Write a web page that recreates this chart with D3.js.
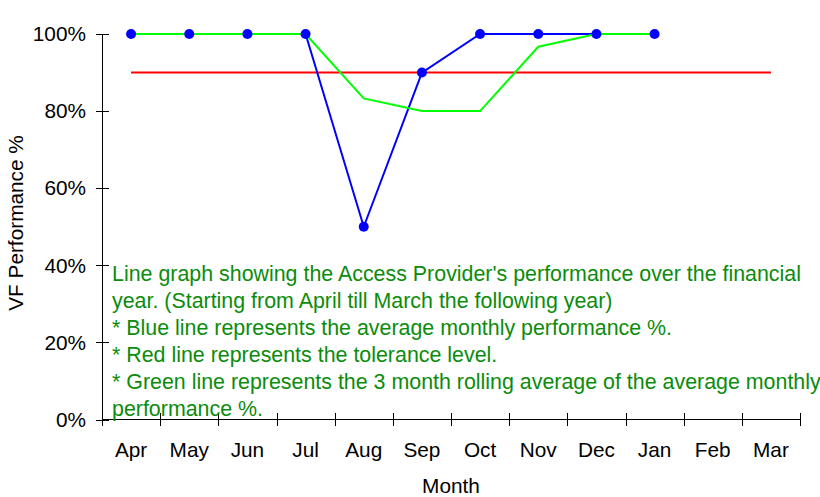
<!DOCTYPE html>
<html><head><meta charset="utf-8">
<script src="https://cdn.jsdelivr.net/npm/d3@7"></script>
<style>body{margin:0;background:#fff}svg{display:block;font-family:"Liberation Sans",Arial,sans-serif}</style>
</head><body><svg id="c" width="820" height="497"></svg>
<script>
const months = ["Apr","May","Jun","Jul","Aug","Sep","Oct","Nov","Dec","Jan","Feb","Mar"];
const monthlyPerf = [100,100,100,100,50,90,100,100,100,100];
const rollingAvg = [100,100,100,100,83.3,80,80,96.7,100,100];
const tolerance = [90,90,90,90,90,90,90,90,90,90,90,90];
const yTicks = [0,20,40,60,80,100];
const noteLines = [
  "Line graph showing the Access Provider's performance over the financial",
  "year. (Starting from April till March the following year)",
  "* Blue line represents the average monthly performance %.",
  "* Red line represents the tolerance level.",
  "* Green line represents the 3 month rolling average of the average monthly",
  "performance %."
];

const svg = d3.select("#c");
const x = d3.scaleBand().domain(months).range([102,800]);
const y = d3.scaleLinear().domain([0,100]).range([419.5,34]);
const cx = m => x(m) + x.bandwidth()/2;
const FS = 20.8;

// y axis
const ga = svg.append("g").attr("stroke","#000").attr("stroke-width",1);
ga.append("line").attr("x1",102.5).attr("x2",102.5).attr("y1",y(100)).attr("y2",y(0));
ga.selectAll(".yt").data(yTicks).join("line").attr("x1",96).attr("x2",109)
  .attr("y1",d=>Math.round(y(d))+0.5).attr("y2",d=>Math.round(y(d))+0.5);
svg.selectAll(".yl").data(yTicks).join("text").attr("x",86).attr("y",d=>y(d))
  .attr("dy","0.35em").attr("text-anchor","end").attr("font-size",FS).attr("fill","#000")
  .text(d=>d+"%");
// x axis
ga.append("line").attr("x1",102).attr("x2",800).attr("y1",419.5).attr("y2",419.5);
const xb = months.map(m=>x(m)).concat([800]);
ga.selectAll(".xt").data(xb).join("line").attr("x1",d=>Math.round(d)+0.5).attr("x2",d=>Math.round(d)+0.5)
  .attr("y1",413).attr("y2",426);
svg.selectAll(".xl").data(months).join("text").attr("x",d=>cx(d)).attr("y",457)
  .attr("text-anchor","middle").attr("font-size",FS).attr("fill","#000").text(d=>d);
svg.append("text").attr("x",451).attr("y",493).attr("text-anchor","middle").attr("font-size",FS).text("Month");
svg.append("text").attr("transform","translate(23,223) rotate(-90)").attr("text-anchor","middle")
  .attr("font-size",FS).text("VF Performance %");

const line = d3.line().x((d,i)=>cx(months[i])).y(d=>y(d));
svg.append("path").datum(tolerance).attr("d",line).attr("fill","none").attr("stroke","#ff0000").attr("stroke-width",2);
svg.append("path").datum(monthlyPerf).attr("d",line).attr("fill","none").attr("stroke","#0000ff").attr("stroke-width",2);
svg.append("path").datum(rollingAvg).attr("d",line).attr("fill","none").attr("stroke","#00ff00").attr("stroke-width",2);
svg.selectAll(".pt").data(monthlyPerf).join("circle").attr("cx",(d,i)=>cx(months[i])).attr("cy",d=>y(d))
  .attr("r",5).attr("fill","#0000ff");

svg.selectAll(".note").data(noteLines).join("text").attr("x",112).attr("y",(d,i)=>281+i*27)
  .attr("font-size",21.4).attr("fill","#0b8c0b").text(d=>d);
</script></body></html>
